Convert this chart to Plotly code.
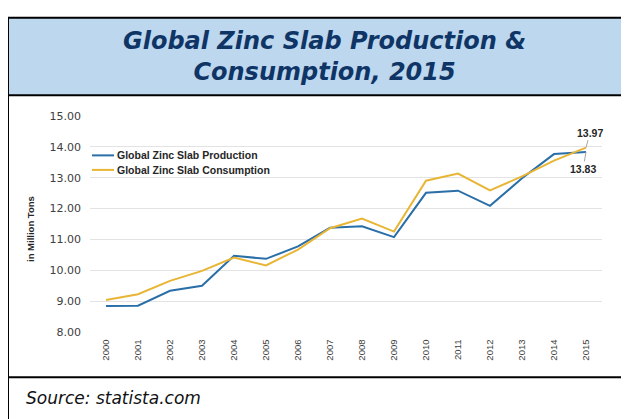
import plotly.graph_objects as go

years = list(range(2000, 2016))
production = [8.86, 8.87, 9.35, 9.51, 10.48, 10.38, 10.78, 11.38, 11.43, 11.08,
              12.51, 12.58, 12.09, 12.98, 13.76, 13.83]
consumption = [9.05, 9.24, 9.67, 9.99, 10.42, 10.17, 10.68, 11.37, 11.68, 11.26,
               12.90, 13.13, 12.59, 13.04, 13.55, 13.97]
y_ticks = [8, 9, 10, 11, 12, 13, 14, 15]
series_names = ["Global Zinc Slab Production", "Global Zinc Slab Consumption"]

# page body has an 8px margin, so size the figure to the visible area
OFF = 8
W, H = 629 - OFF, 419 - OFF


def px(x):
    return (x - OFF) / W


def py(y):
    return 1 - (y - OFF) / H


blue = "#2A6FA8"
gold = "#E8B535"
colors = [blue, gold]

fig = go.Figure()
for name, vals, col in zip(series_names, [production, consumption], colors):
    fig.add_trace(go.Scatter(x=years, y=vals, mode="lines", name=name,
                             line=dict(color=col, width=2)))

# end labels with leader lines
lab_font = dict(family="Liberation Sans", size=10.5, color="#262626")
fig.add_annotation(x=years[-1], y=consumption[-1], text=f"<b>{consumption[-1]:.2f}</b>",
                   ax=4, ay=-15, showarrow=True, arrowhead=0, arrowwidth=1,
                   arrowcolor="#A6A6A6", font=lab_font)
fig.add_annotation(x=years[-1], y=production[-1], text=f"<b>{production[-1]:.2f}</b>",
                   ax=-3, ay=17, showarrow=True, arrowhead=0, arrowwidth=1,
                   arrowcolor="#A6A6A6", font=lab_font)

# legend drawn in the top-left corner of the plot
for i, (name, col) in enumerate(zip(series_names, colors)):
    yy = 154 + 15 * i
    fig.add_shape(type="line", xref="paper", yref="paper",
                  x0=px(92), x1=px(114), y0=py(yy), y1=py(yy),
                  line=dict(color=col, width=2))
    fig.add_annotation(xref="paper", yref="paper", x=px(115), y=py(yy),
                       text=f"<b>{name}</b>", showarrow=False,
                       xanchor="left", yanchor="middle",
                       font=dict(family="Liberation Sans", size=10.5, color="#262626"))

# panel frame, title box and separators
fig.add_shape(type="rect", xref="paper", yref="paper",
              x0=px(8), x1=px(640), y0=py(12), y1=py(92),
              fillcolor="#BDD7EE", line=dict(width=0), layer="below")
fig.add_shape(type="rect", xref="paper", yref="paper",
              x0=px(8), x1=px(640), y0=py(12), y1=py(430),
              line=dict(color="#000000", width=2), layer="above")
for yy in (92, 383):
    fig.add_shape(type="line", xref="paper", yref="paper",
                  x0=px(8), x1=px(640), y0=py(yy), y1=py(yy),
                  line=dict(color="#000000", width=2))

fig.add_annotation(xref="paper", yref="paper", x=px(324), y=py(52),
                   text="<b><i>Global Zinc Slab Production &<br>Consumption, 2015</i></b>",
                   showarrow=False, align="center", xanchor="center", yanchor="middle",
                   font=dict(family="DejaVu Sans", size=24, color="#0F3566"))
fig.add_annotation(xref="paper", yref="paper", x=px(24), y=py(405),
                   text="<i>Source: statista.com</i>", showarrow=False,
                   xanchor="left", yanchor="middle",
                   font=dict(family="DejaVu Sans", size=17, color="#111111"))
fig.add_annotation(xref="paper", yref="paper", x=px(31), y=py(230),
                   text="<b>in Million Tons</b>", showarrow=False, textangle=-90,
                   xanchor="center", yanchor="middle",
                   font=dict(family="Liberation Sans", size=9.5, color="#262626"))

fig.update_layout(
    width=W, height=H,
    margin=dict(l=0, r=0, t=0, b=0),
    paper_bgcolor="#FFFFFF",
    plot_bgcolor="#FFFFFF",
    showlegend=False,
    xaxis=dict(domain=[px(90), px(602)], range=[1999.5, 2015.5],
               tickmode="array", tickvals=years, ticktext=[str(y) for y in years],
               tickangle=-90, showgrid=False, zeroline=False, showline=False,
               ticklabelstandoff=4,
               tickfont=dict(family="Liberation Sans", size=9.5, color="#404040")),
    yaxis=dict(domain=[py(337), py(113)], range=[8, 15],
               tickmode="array", tickvals=y_ticks,
               ticktext=[f"{v:.2f}" for v in y_ticks],
               showgrid=True, gridcolor="#E3E3E3", gridwidth=1, zeroline=False,
               showline=False, ticks="", ticklabelstandoff=8,
               tickfont=dict(family="DejaVu Sans", size=11, color="#404040")),
)

fig.write_html("out.html", config={"displayModeBar": False})
